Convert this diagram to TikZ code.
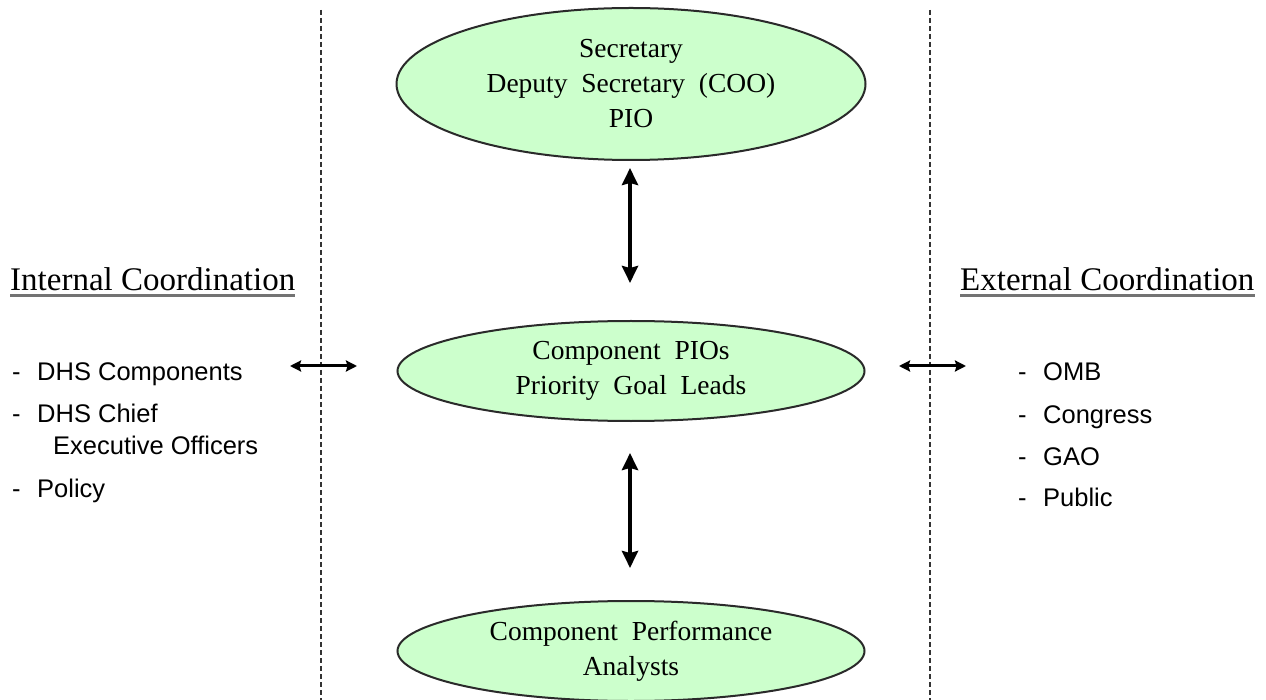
\documentclass[tikz,border=0pt]{standalone}
\usepackage{fontspec}
\setmainfont{Liberation Serif}
\setsansfont{Liberation Sans}
\usetikzlibrary{shapes.geometric,arrows.meta}
\definecolor{ellfill}{HTML}{CCFFCC}
\definecolor{ellline}{HTML}{2A2A2A}
\begin{document}
\begin{tikzpicture}[x=1pt,y=-1pt,
  oval/.style={ellipse,draw=ellline,line width=2pt,fill=ellfill,inner sep=0pt,align=center,
    font=\fontsize{27.5}{35}\selectfont},
  twoway/.style={line width=4.2pt,arrows={Stealth[length=17pt,width=16pt,inset=2pt]-Stealth[length=17pt,width=16pt,inset=2pt]}},
  sideway/.style={line width=3pt,arrows={Stealth[length=11pt,width=11pt,inset=1.5pt]-Stealth[length=11pt,width=11pt,inset=1.5pt]}},
  divider/.style={line width=1.2pt,dash pattern=on 5pt off 3pt,black!80},
  heading/.style={font=\fontsize{33}{36}\selectfont,inner sep=0pt,anchor=base west},
  item/.style={font=\sffamily\fontsize{25.5}{30}\selectfont,inner sep=0pt,anchor=base west}]
\useasboundingbox (0,0) rectangle (1266,700);
\fill[white] (0,0) rectangle (1266,700);

% dividers
\draw[divider] (321,10) -- (321,700);
\draw[divider] (930,10) -- (930,700);

% ellipses
\node[oval,minimum width=469pt,minimum height=152pt] (top) at (631,84)
  {Secretary\\Deputy\ \ Secretary\ \ (COO)\\PIO};
\node[oval,minimum width=467pt,minimum height=100pt] (mid) at (631,371)
  {Component\ \ PIOs\\Priority\ \ Goal\ \ Leads};
\node[oval,minimum width=467pt,minimum height=100pt] (bot) at (631,651)
  {Component\ \ Performance\\Analysts};

% vertical arrows
\draw[twoway,shorten <=7pt,shorten >=37pt] ([xshift=-1pt]top.south) -- ([xshift=-1pt]mid.north);
\draw[twoway,shorten <=31pt,shorten >=32pt] ([xshift=-1pt]mid.south) -- ([xshift=-1pt]bot.north);

% headings
\node[heading] (inthead) at (10,291) {Internal Coordination};
\draw[line width=2.2pt,black!55] ([yshift=-4.5pt]inthead.base west) -- ([yshift=-4.5pt]inthead.base east);
\node[heading] (exthead) at (960,291) {External Coordination};
\draw[line width=2.2pt,black!55] ([yshift=-4.5pt]exthead.base west) -- ([yshift=-4.5pt]exthead.base east);

% internal list
\node[item] (i1d) at (12,381) {-};
\node[item] (i1) at (37,381) {DHS Components};
\node[item] (i2d) at (12,422) {-};
\node[item] (i2) at (37,422) {DHS Chief};
\node[item] (i2b) at (53,454) {Executive Officers};
\node[item] (i3d) at (12,497) {-};
\node[item] (i3) at (37,497) {Policy};

% external list
\node[item] (e1d) at (1018,381) {-};
\node[item] (e1) at (1043,381) {OMB};
\node[item] (e2d) at (1018,423) {-};
\node[item] (e2) at (1043,423) {Congress};
\node[item] (e3d) at (1018,465) {-};
\node[item] (e3) at (1043,465) {GAO};
\node[item] (e4d) at (1018,506) {-};
\node[item] (e4) at (1043,506) {Public};

% horizontal arrows
\coordinate (lL) at (290,366);
\coordinate (lR) at (357,366);
\coordinate (rL) at (899,366);
\coordinate (rR) at (966,366);
\draw[sideway] (lL) -- (lR);
\draw[sideway] (rL) -- (rR);
\end{tikzpicture}
\end{document}
